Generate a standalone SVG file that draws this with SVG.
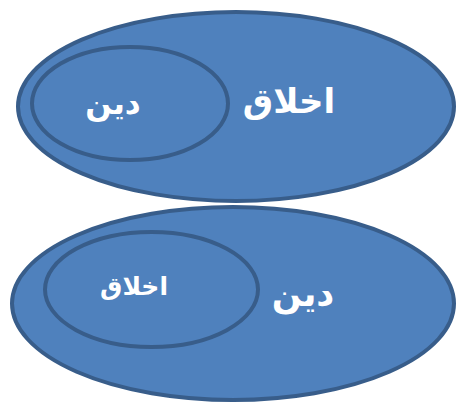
<svg xmlns="http://www.w3.org/2000/svg" width="456" height="403" viewBox="0 0 456 403">
<style>
.e{fill:#4F81BD;stroke:#385D8A;stroke-width:4}
.t{fill:#FFFFFF;font-family:"DejaVu Sans","Liberation Sans",sans-serif;font-weight:bold;text-anchor:middle;direction:rtl}
</style>
<rect width="456" height="403" fill="#FFFFFF"/>
<g id="top-akhlaq">
<ellipse class="e" cx="236" cy="106.5" rx="218" ry="94.5"/>
<text class="t" x="289" y="113" font-size="34">اخلاق</text>
</g>
<g id="top-din">
<ellipse class="e" cx="130" cy="103.5" rx="98" ry="56.5"/>
<text class="t" x="113" y="114" font-size="31">دین</text>
</g>
<g id="bottom-din">
<ellipse class="e" cx="233" cy="303.5" rx="221" ry="96.5"/>
<text class="t" x="303" y="306" font-size="35">دین</text>
</g>
<g id="bottom-akhlaq">
<ellipse class="e" cx="151.5" cy="289.5" rx="106.5" ry="57.5"/>
<text class="t" x="134" y="295" font-size="25">اخلاق</text>
</g>
<g id="connectors"></g>
</svg>
